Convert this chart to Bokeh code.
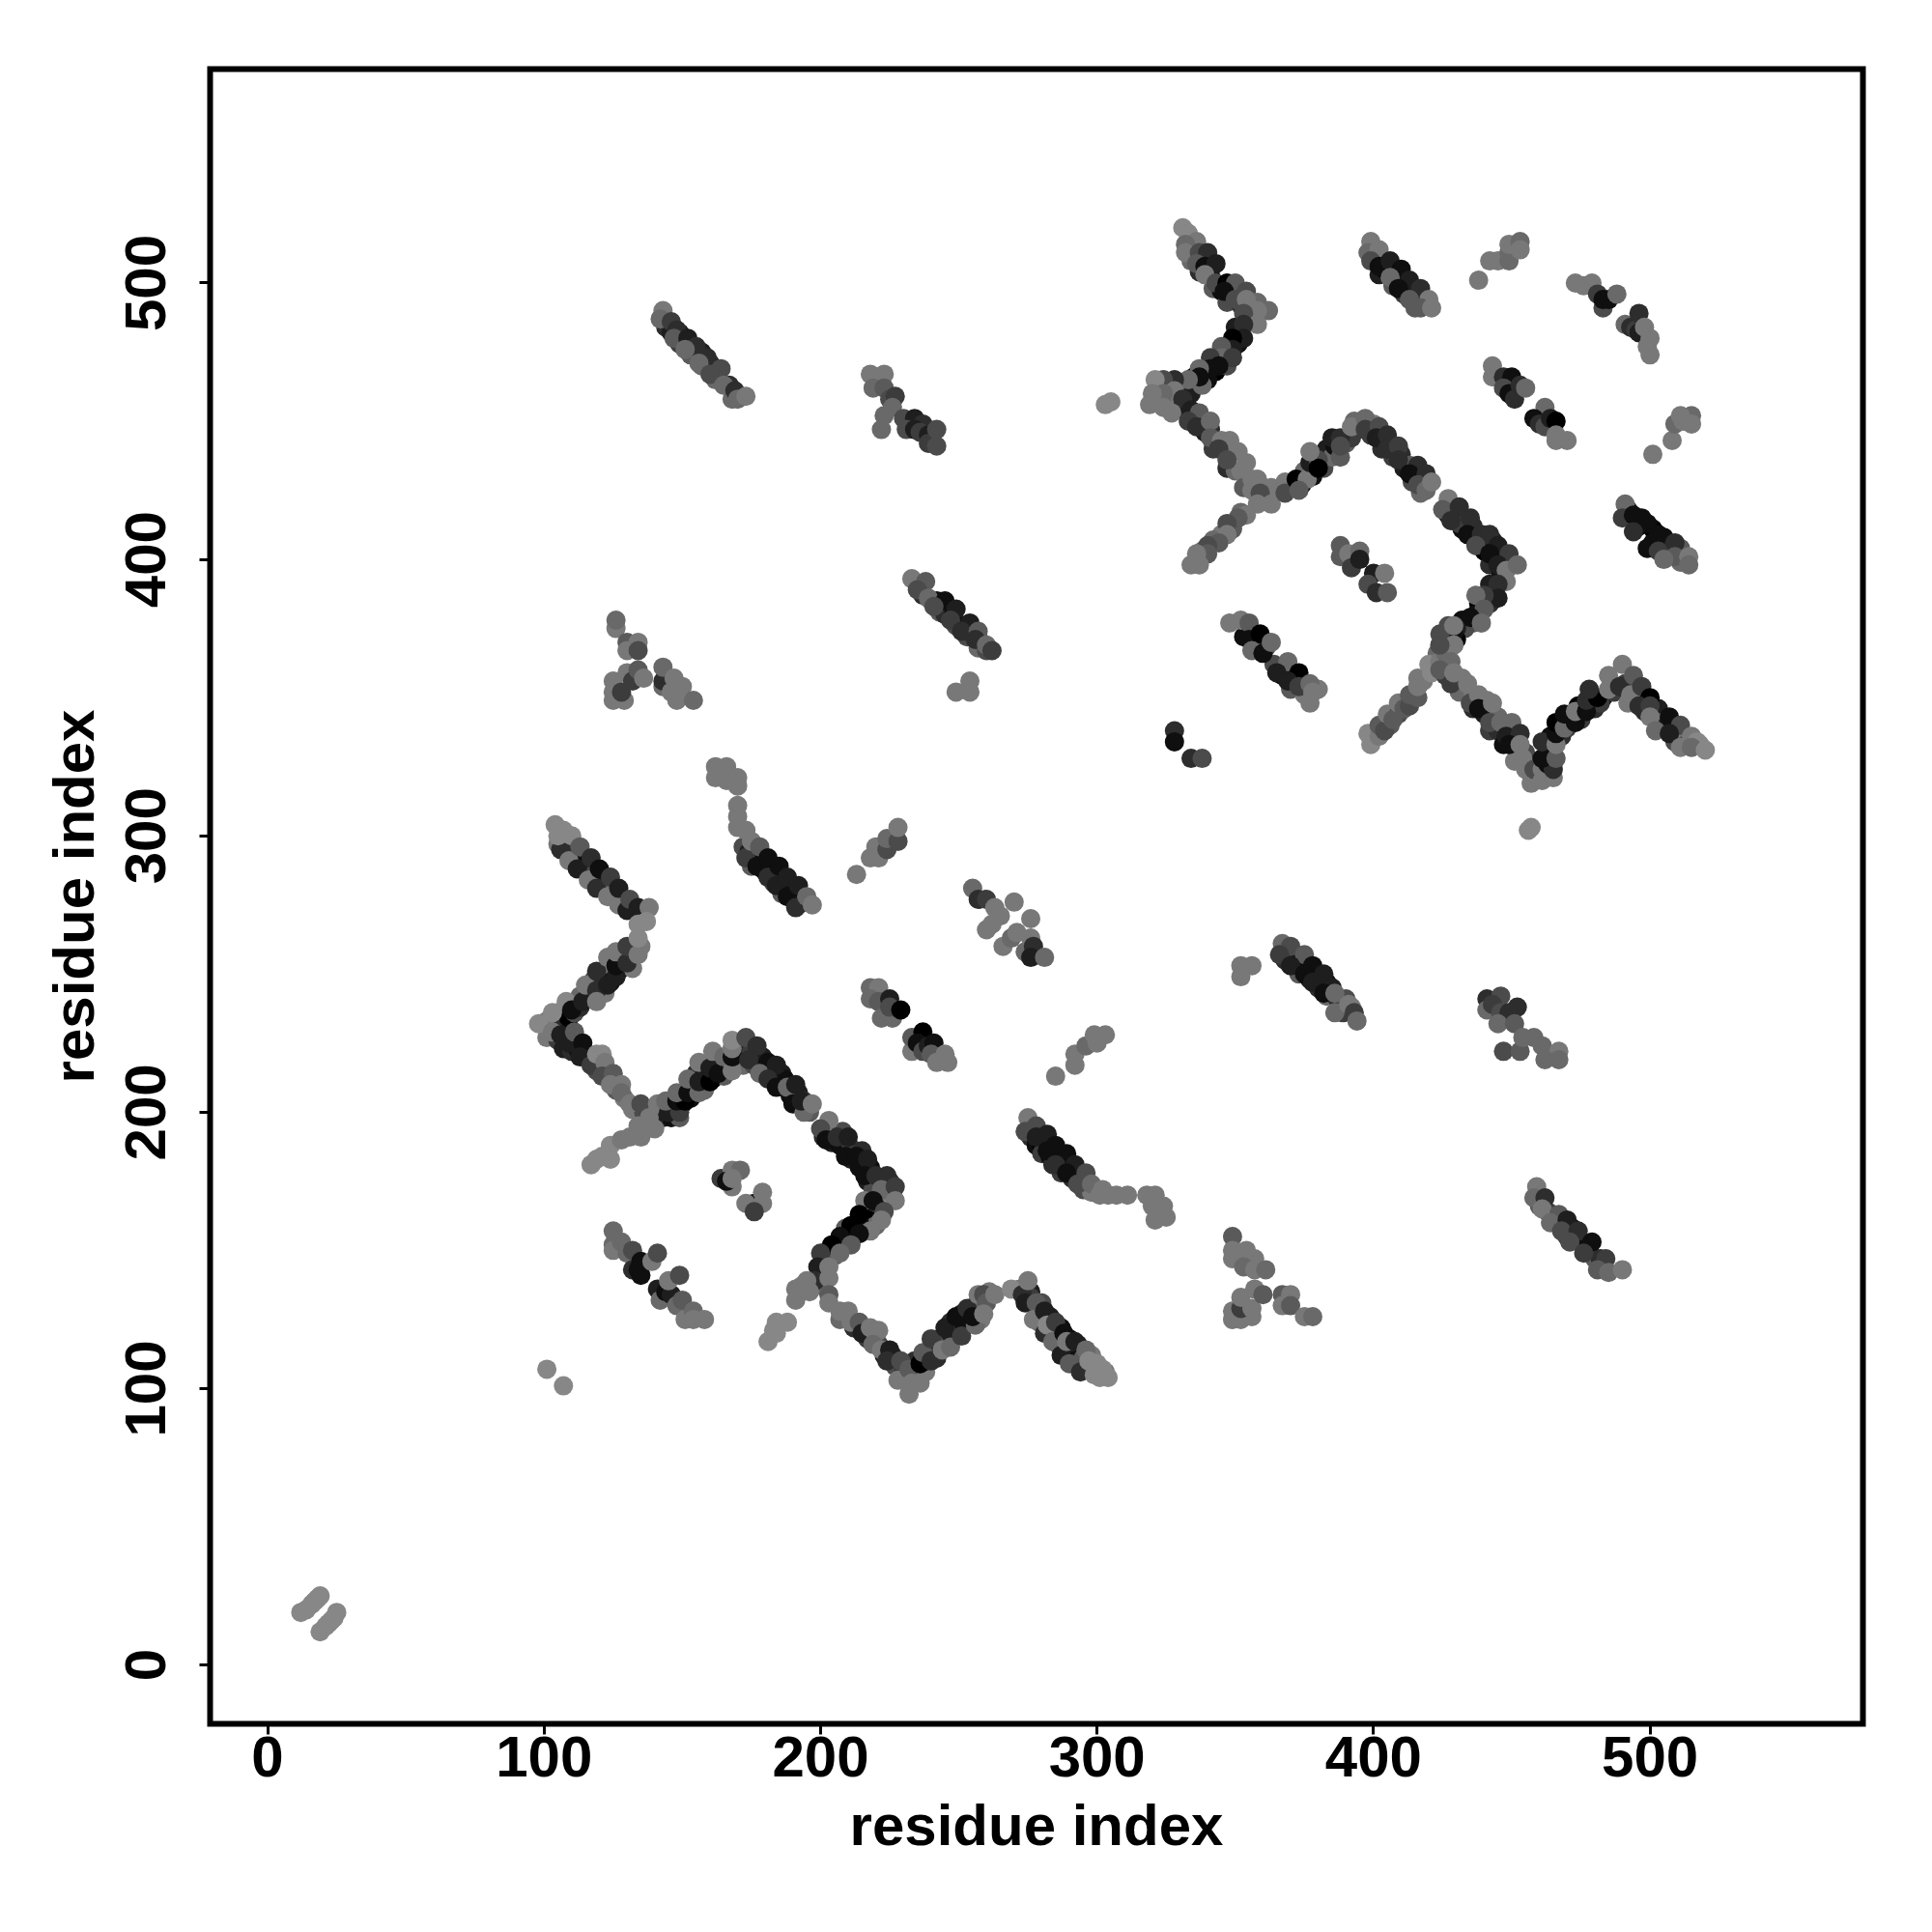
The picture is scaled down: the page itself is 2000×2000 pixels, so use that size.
from bokeh.plotting import figure
from bokeh.embed import file_html
from bokeh.resources import INLINE
from bokeh.models import ColumnDataSource, FixedTicker, Range1d

# (residue i, residue j, shade level: 0 darkest ... 9 lightest)
motif_n = [(12,19,9),(14,20,9),(16,22,9),(17,23,9),(18,24,9),(19,25,9),(19,12,9),(21,14,9),(22,15,9),(23,16,9),(24,17,9),(25,19,9)]
singles = [(101,107,9),(107,101,9),(303,456,9),(305,457,9),(456,302,9),(457,303,9)]
fill_a = [(105,297,8),(107,298,6),(108,295,2),(110,296,4),(111,292,3),(113,293,2),(114,290,1),(116,288,2),(118,286,5),(120,284,8),(121,283,2),(122,281,2),(124,280,7),(125,278,8),(128,277,4),(129,275,3),(131,275,1),(134,272,8),(136,271,8)]
fill_b = [(101,233,8),(105,236,7),(107,232,3),(109,234,0),(111,236,5),(113,238,3),(113,242,7),(116,242,2),(117,243,1),(118,248,6),(120,246,1),(121,249,3),(122,243,8),(124,252,8),(124,247,1),(127,251,8),(128,252,2),(128,256,7),(127,254,1),(131,256,3),(132,258,6),(133,260,4),(135,260,8),(132,252,8)]
fill_c = [(101,227,8),(105,226,4),(107,223,2),(110,222,3),(112,223,1),(115,221,6),(116,219,3),(118,217,7),(119,215,5),(123,212,8),(126,208,6),(129,205,8),(132,201,8),(136,200,5),(138,199,3),(143,198,2),(146,198,1),(149,198,6),(146,202,0),(150,203,0),(153,205,1),(150,206,1),(154,209,0),(157,210,1),(158,208,7),(155,214,3),(158,213,1),(161,212,0),(162,216,7),(164,218,1),(165,213,6),(166,217,0),(170,218,5),(171,222,2),(172,217,7),(175,222,4),(176,217,5),(179,220,2),(180,215,4),(181,218,1),(182,212,6),(186,214,2),(186,210,2),(187,212,1),(189,206,1),(192,207,2),(191,204,3),(194,204,3),(196,200,6)]
fill_d = [(201,191,3),(204,189,2),(207,188,1),(208,193,5),(211,187,4),(211,183,2),(214,180,1),(215,186,3),(218,180,1),(217,175,2),(221,174,2),(225,175,3),(219,172,5),(224,171,8),(218,165,0),(221,165,3),(217,161,0),(220,159,7),(214,160,1),(212,156,1),(209,154,0),(209,158,6),(206,152,1),(203,150,1),(202,147,5),(205,148,6)]
fill_e = [(200,141,4),(201,137,7),(207,125,7),(212,122,3),(216,122,7),(217,118,4),(221,116,5),(223,112,2),(226,112,3),(227,108,5),(230,107,4),(230,103,8),(234,105,7),(234,110,3),(238,106,8),(238,110,1),(238,113,0),(242,111,3),(242,115,2),(243,118,1),(245,117,5),(247,120,2),(247,124,3),(250,122,4),(252,123,1),(251,127,2),(254,125,5),(253,125,1),(256,130,4),(258,129,7)]
fill_f = [(261,135,8),(258,125,8),(272,136,8),(276,135,2),(276,133,4),(279,128,3),(280,131,5),(279,124,7),(283,126,2),(283,121,5),(286,121,3),(287,122,1),(286,116,5),(290,118,1),(291,113,2),(293,116,2),(292,110,1),(295,111,6),(296,108,3),(298,107,7),(298,112,8),(303,106,8),(302,107,9)]
chain_a = [(106,295,3),(109,291,8),(112,288,2),(116,284,8),(119,281,3),(123,278,8),(127,275,8),(130,273,2),
 (104,304,9),(105,300,9),(107,302,9),(110,300,9),(113,296,6),(117,292,3),(120,288,1),(124,285,4),(127,281,2),(131,277,5),(134,274,2),(138,274,8),(134,268,9),(137,269,9)]
chain_b = [(98,232,9),(103,236,9),(108,240,9),(110,237,1),(114,240,2),(115,246,8),(119,244,3),(119,240,8),(119,251,3),(123,246,2),(123,256,8),(126,249,2),(126,253,1),(126,258,8),(130,254,3),(130,260,4),(134,257,8),(134,263,9)]
chain_c = [(103,229,8),(106,228,2),(109,225,2),(111,229,6),(114,225,1),(113,220,2),(117,217,4),(119,221,9),(121,221,9),(122,218,8),(121,213,5),(125,214,6),(124,210,8),(128,210,8),(128,207,7),(131,203,8),(135,203,5),(140,198,2),(141,203,8),(145,200,2),(149,200,4),(144,204,7),(148,204,1),(151,204,0),(148,207,7),(152,207,1),(152,212,7),(156,207,7),(156,211,2),(160,211,0),(156,218,8),(160,216,2),(163,214,1),(161,222,8),(165,220,7),(168,215,8),(168,220,1),(168,223,8),(168,226,9),(173,227,5),(177,224,3),(174,219,3),(178,214,7),(184,217,2),(181,212,3),(184,209,1),(188,209,7),(191,210,2),(190,203,1),(194,200,7),(193,204,2),(197,203,8)]
chain_d = [(203,197,8),(200,194,5),(202,190,1),(206,191,3),(210,191,2),(209,184,1),(213,184,1),(217,183,2),(216,177,1),(220,177,3),(224,177,3),(222,172,7),(227,173,4),(216,168,8),(219,168,1),(227,168,8),(223,164,5),(222,161,8),(214,163,0),(218,157,8),(211,159,0),(214,156,1),(207,155,1),(211,152,6),(204,152,0),(207,149,7),(200,149,4)]
chain_e = [(199,144,2),(203,144,8),(198,139,3),(203,140,8),(203,134,6),(203,131,8),(207,128,8),(210,128,8),(211,124,8),(214,124,6),(215,120,2),(218,122,8),(221,121,8),(219,116,7),(222,114,8),(225,114,2),(224,110,3),(229,110,5),(228,103,8),(232,107,6),(232,98,8),(233,102,8),(236,102,8),(236,109,0),(237,113,6),(240,110,3),(240,118,4),(244,114,8),(245,122,2),(247,115,7),(251,119,4),(249,126,1),(253,129,3),(256,123,7),(255,126,1),(257,134,8),(259,134,5)]
chain_f = [(260,131,6),(259,127,8),(263,134,8),(269,136,9),(273,134,3),(274,131,2),(275,139,8),(278,131,6),(277,125,8),(281,128,2),(281,120,3),(282,123,9),(285,124,4),(284,117,7),(287,112,2),(288,120,1),(289,117,8),(292,117,2),(290,109,6),(296,114,7),(294,106,3),(297,110,9),(299,105,9),(300,109,9),(301,104,9),(304,104,9)]
side_g = [(117,181,9),(119,183,9),(121,184,9),(124,188,9),(124,183,9),(128,190,8),(131,191,8),(135,191,8),(134,195,8),(137,194,8),(140,194,8),(138,198,8)]
side_h = [(191,132,8),(191,136,8),(193,137,8),(195,139,8),(196,135,8)]
side_i = [(181,117,9),(183,121,9),(184,124,9),(188,124,9),(184,120,9)]
inner_j = [(164,176,4),(168,179,8),(171,179,7),(168,173,8),(166,175,1),(168,176,8),(176,167,1),(173,167,8),(179,167,8),(176,164,4),(179,171,8)]
sheet_k = [(125,157,7),(125,152,7),(125,150,8),(128,153,7),(130,149,7),(132,150,5),(132,143,3),(135,146,1),(135,141,1),(134,143,1),(139,146,8),(141,149,5),(141,136,2),(142,132,7),(144,135,1),(146,134,2),(145,139,8),(149,141,5),(148,130,7),(150,132,6),(151,125,8),(154,128,7),(154,125,8),(158,125,8)]
tri_l = [(126,375,8),(126,378,7),(130,370,6),(134,370,8),(130,367,8),(134,367,5),(125,356,8),(125,352,8),(125,349,8),(129,349,8),(128,352,4),(130,359,8),(132,356,4),(134,360,6),(136,357,8),
 (143,354,7),(143,356,3),(143,361,7),(146,352,8),(148,349,8),(147,357,8),(150,354,8),(154,349,7)]
fill_m = [(172,296,5),(174,294,2),(175,289,6),(176,292,0),(179,291,0),(179,288,1),(180,287,0),(183,285,0),(183,283,5),(186,283,1),(186,279,6),(189,281,1),(190,277,1),(191,278,0),(192,275,2),(194,276,5)]
blob_m = [(162,325,8),(166,325,8),(162,321,8),(166,320,8),(170,321,8),(170,318,8),(170,311,8),(170,307,8),(170,303,8),(173,302,8),(173,292,4),(175,298,8),(177,289,1),(178,296,6),(181,285,3),(181,292,1),(184,282,2),(185,289,1),(188,278,1),(188,285,2),(191,274,3),(192,282,2),(195,278,7),(197,275,8)]
blob_n = [(213,286,8),(218,292,8),(221,292,8),(220,296,8),(224,295,5),(224,299,7),(228,298,5),(228,303,8)]
fill_o = [(144,484,3),(146,482,2),(149,482,1),(149,478,4),(153,477,1),(153,474,6),(157,475,2),(157,470,7),(160,471,3),(162,469,2),(162,465,7),(167,463,3),(168,458,7)]
band_o = [(143,490,8),(142,487,7),(146,486,4),(148,483,3),(147,480,6),(152,480,2),(155,477,3),(151,476,7),(159,473,3),(156,471,7),(164,469,5),(160,467,5),(165,463,7),(169,461,3),(170,458,7),(173,459,8)]
band_p = [(218,467,8),(223,467,8),(219,462,7),(223,462,6),(225,458,5),(227,459,4),(226,455,7),(223,452,7),(222,447,7),(230,451,5),(234,451,2),(231,447,5),(237,449,3),(234,447,2),(236,446,4),(239,445,2),(239,442,4),(242,441,5),(242,447,5)]
fill_q = [(236,391,4),(237,387,3),(240,385,6),(242,385,1),(243,381,6),(245,380,3),(248,380,1),(249,376,5),(252,376,1),(253,372,5),(255,373,3),(258,370,4),(257,368,7),(260,367,5)]
band_q = [(233,393,8),(238,392,6),(235,389,5),(239,386,7),(245,385,1),(241,383,5),(249,382,2),(247,378,4),(254,377,2),(251,374,3),(257,374,6),(256,371,3),(260,369,7),(262,367,4)]
blob_r = [(249,352,8),(254,356,8),(254,352,8)]
sheet_s = [(218,245,7),(221,245,8),(218,241,7),(221,240,6),(225,241,2),(222,234,7),(226,234,7),(225,238,5),(229,237,0),
 (233,222,8),(233,227,6),(237,229,0),(235,225,1),(237,222,5),(239,224,2),(241,225,1),(240,221,6),(242,218,8),(245,221,8),(246,218,8)]
blob_t = [(255,281,7),(257,277,3),(260,277,4),(263,274,8),(260,266,8),(265,271,8),(262,268,8),(270,276,8),(276,270,8),(266,260,8),(269,263,7),(271,265,8),(274,258,7),(276,263,8),(277,260,3),(276,256,2),(281,256,7)]
blob_u = [(285,213,8),(292,217,8),(292,221,8),(296,224,7),(299,228,8),(300,225,8),(303,228,8)]
fill_v = [(276,191,3),(278,188,1),(280,188,0),(280,185,4),(283,184,1),(284,181,3),(287,183,1),(287,178,4),(290,181,0),(291,176,3),(294,177,1),(295,172,5),(298,171,8)]
band_v = [(275,198,8),(274,193,5),(278,195,5),(278,191,2),(282,192,2),(282,186,1),(285,188,1),(289,185,1),(285,181,3),(292,181,2),(289,178,1),(296,178,5),(293,174,5),(298,174,7),(302,172,8),(301,170,8),(304,170,8),(307,170,8),(311,170,8),(318,170,8),(321,170,8),(320,166,8),(324,166,8),(325,162,8),(321,161,8)]
tri_w = [(349,155,6),(349,150,8),(349,147,8),(354,150,8),(357,147,8),(353,144,7),(357,143,8),(361,143,7),
 (349,128,8),(349,125,8),(352,125,8),(356,126,8),(352,129,4),(352,133,8),(356,129,8),(357,136,8),(360,134,6),(367,134,6),(370,134,8),(367,130,8),(370,130,6),(375,126,8),(378,126,7)]
blob_x = [(352,253,8),(356,253,8),(352,249,8)]
fill_y = [(368,255,3),(371,256,1),(372,253,1),(373,250,6),(376,252,1),(377,248,2),(380,250,1),(380,245,3),(383,247,1),(383,242,7),(387,241,3),(389,236,4),(390,241,5),(392,238,8)]
band_y = [(367,261,7),(370,260,5),(366,257,4),(375,257,6),(370,253,2),(378,253,1),(375,250,1),(382,250,2),(378,247,2),(385,245,2),(382,243,1),(386,243,7),(386,236,7),(391,239,8),(393,236,4),(394,233,7)]
fill_z = [(334,512,8),(334,508,7),(337,504,3),(341,503,1),(342,498,6),(345,497,1),(347,493,5),(350,497,2),(352,492,3),(356,490,5),(350,484,2),(351,478,1),(347,474,2),(343,473,1),(343,468,0),(347,470,5),(339,468,1),(340,465,1),(335,466,0),(336,463,6),(331,461,1),(334,460,2),(338,463,7)]
chain_z = [(331,520,9),(333,518,9),(336,515,8),(332,514,7),(332,511,8),(337,511,5),(340,511,3),(336,507,6),(339,506,1),(343,507,2),(339,503,8),(343,500,5),(347,500,0),(350,500,6),(346,497,1),(350,494,5),(354,497,5),(358,493,7),(354,494,8),(362,490,7),(358,490,8),(353,489,5),(358,485,8),(353,485,3),(353,480,2),(349,480,0),(349,476,2),(345,477,6),(345,473,7),(349,473,4),(341,473,4),(344,470,1),(341,469,1),(337,469,7),(337,466,1),(333,465,7)]
fill_aa = [(322,458,8),(326,458,5),(329,455,8),(331,455,2),(334,450,3),(338,450,2),(339,446,2),(341,447,3),(342,440,4),(346,440,5),(347,433,3),(350,432,7),(352,432,8),(353,426,6),(356,425,8),(360,426,8),(360,421,7),(352,417,7),(349,413,8),(349,411,6),(345,409,8),(342,407,7),(338,403,7)]
chain_aa = [(328,465,3),(324,465,5),(321,465,9),(328,461,8),(331,458,3),(324,460,7),(320,460,8),(319,456,8),(324,455,8),(327,453,8),(334,454,2),(337,453,6),(333,450,4),(336,448,3),(341,450,7),(341,444,6),(345,443,8),(348,443,8),(344,440,4),(351,439,8),(347,436,5),(354,435,8),(356,429,8),(358,429,8),(363,426,8),(359,424,5),(363,420,8),(358,420,8),(354,416,8),(351,415,6),(347,413,5),(347,409,8),(344,406,6),(340,405,5),(340,402,6),(336,402,8),(334,398,8),(337,398,8)]
fill_ab = [(370,426,6),(374,427,0),(375,432,7),(378,430,1),(378,436,1),(382,436,1),(382,433,5),(383,440,2),(385,437,7),(386,441,1),(390,442,6),(392,444,4),(393,450,7),(399,445,4),(400,449,8),(403,440,3),(406,442,4),(407,437,4),(410,438,3),(411,433,2),(414,428,5),(417,428,3),(413,434,6),(417,424,7)]
chain_ab = [(368,428,8),(368,424,5),(372,429,0),(376,429,8),(373,425,6),(377,435,2),(380,436,5),(380,433,0),(377,439,8),(385,444,2),(388,444,3),(388,437,6),(388,441,5),(392,448,8),(397,451,7),(397,447,4),(402,448,5),(401,444,2),(405,445,3),(405,440,3),(409,441,4),(409,436,3),(416,434,3),(413,431,1),(419,431,3),(416,427,5),(419,425,7),(421,428,8)]
fill_ac = [(427,416,1),(430,416,1),(432,411,1),(431,413,4),(436,412,3),(436,408,2),(439,405,1),(440,403,0),(443,407,2),(444,401,1),(447,400,1),(442,398,3),(446,395,1),(442,391,2),(442,387,2),(442,384,3),(438,384,0),(437,380,1),(436,377,6),(432,378,1),(433,375,5),(430,371,0),(426,371,6),(427,376,5),(423,366,7)]
chain_ac = [(427,422,8),(425,418,6),(431,419,3),(435,415,3),(428,414,3),(434,409,1),(439,409,3),(442,409,3),(437,405,5),(445,405,2),(442,402,1),(449,402,4),(445,398,2),(448,396,8),(452,398,7),(448,392,8),(445,391,3),(445,386,2),(440,387,4),(437,387,7),(440,382,6),(435,379,1),(439,377,7),(430,375,2),(426,373,7),(429,373,1),(424,369,5),(429,369,7)]
fill_ad = [(400,509,3),(402,503,2),(404,505,0),(407,505,0),(407,499,6),(410,500,1),(411,496,4),(413,498,0),(415,495,2),(415,491,6),(418,493,1)]
band_ad = [(399,515,8),(398,511,7),(402,512,8),(399,508,5),(402,506,1),(406,508,2),(410,505,1),(406,502,7),(413,501,2),(409,498,1),(417,498,3),(413,494,6),(420,494,8),(417,491,6),(421,491,8)]
blob_ae = [(438,501,8),(442,508,8),(445,508,8),(449,508,7),(449,511,7),(449,514,8),(453,515,7),(453,512,8)]
band_af = [(443,470,8),(443,466,8),(447,466,3),(450,466,1),(447,462,5),(449,460,1),(451,458,3),(453,463,3),(455,462,7),(462,455,7),(458,451,1),(460,449,3),(462,448,5),(464,451,2),(466,450,0),(466,445,8),(466,443,8),(470,443,8)]
inner_ag = [(388,405,6),(388,401,6),(391,402,8),(395,403,7),(392,397,4),(395,400,2),(400,395,2),(398,391,5),(401,388,3),(404,395,8),(405,388,6)]
fill_ah = [(353,372,1),(357,369,1),(358,368,0),(361,368,5),(364,362,5),(367,358,0),(370,358,1),(370,353,6),(375,355,4),(375,351,8),(380,353,8)]
band_ah = [(348,377,8),(352,378,8),(355,377,6),(355,371,1),(359,373,0),(356,367,7),(360,366,1),(363,370,7),(369,363,7),(365,359,2),(373,359,0),(369,356,2),(373,354,4),(377,355,7),(378,352,8),(377,348,8)]
chain_ai = [(398,337,9),(399,333,9),(402,336,8),(402,340,6),(406,340,6),(404,338,5),(405,344,8),(409,344,5),(407,342,6),(409,348,8),(411,346,6),(413,347,5),(413,351,6),(416,350,6),(416,354,8),(416,357,8),(418,356,8),(421,359,9),(420,362,9),(424,363,8)]
fill_aj = [(426,366,7),(426,358,4),(431,352,7),(432,357,8),(436,351,8),(436,346,3),(441,349,8),(440,344,2),(442,338,4),(445,343,7),(445,338,3),(447,333,1),(451,335,2),(452,330,7),(451,327,8),(455,330,5),(459,326,3)]
chain_aj = [(424,373,5),(429,376,8),(429,369,8),(424,369,5),(428,363,7),(424,360,6),(428,355,4),(429,359,8),(434,355,8),(435,348,5),(438,351,8),(438,346,1),(443,348,8),(442,341,5),(446,341,7),(450,341,7),(448,336,2),(453,337,3),(449,333,1),(453,333,8),(454,328,8),(455,324,8),(457,319,8),(458,324,5),(461,320,8),(461,324,8),(465,321,8)]
fill_ak = [(463,326,1),(463,331,0),(464,336,1),(468,336,3),(468,341,0),(471,343,2),(470,339,4),(475,342,4),(474,347,0),(479,347,0),(480,346,3),(483,350,1),(482,348,4),(487,352,4),(491,355,4),(492,348,8),(496,351,2),(498,349,0),(498,345,3),(502,343,0),(503,346,2),(504,341,6),(505,339,2),(509,338,3),(509,334,5),(512,335,8),(513,333,5),(518,333,9)]
chain_ak = [(465,324,3),(461,328,1),(466,328,6),(461,334,3),(466,333,8),(466,337,1),(466,341,0),(469,339,7),(469,344,1),(473,341,1),(473,345,8),(477,345,1),(477,349,3),(481,350,0),(478,353,3),(485,353,8),(485,358,8),(489,354,3),(490,362,8),(494,358,6),(493,351,8),(497,354,4),(500,350,0),(496,347,3),(500,347,4),(500,343,8),(507,343,1),(502,338,7),(511,340,5),(507,337,2),(511,332,8),(515,336,8),(517,334,9),(515,332,7),(520,331,9)]
small_al = [(328,338,3),(328,334,1),(334,328,3),(338,328,5)]
fill_am = [(492,418,1),(496,412,0),(497,415,1),(501,411,0),(501,406,1),(505,408,1),(505,404,2),(507,402,5),(511,404,6),(511,399,7)]
band_am = [(491,420,7),(490,415,4),(494,416,1),(499,413,1),(494,410,3),(503,409,1),(499,404,1),(503,403,4),(509,406,3),(509,401,6),(505,400,7),(514,401,8),(514,398,7)]
blob_an = [(501,438,8),(508,443,8),(509,449,7),(512,450,8),(515,452,7),(515,449,8),(511,452,8)]
band_ao = [(473,500,8),(476,499,8),(479,500,8),(481,496,4),(483,491,5),(483,494,1),(485,494,1),(488,496,7),(491,485,7),(493,484,3),(495,483,4),(496,489,3),(496,482,2),(498,484,8),(500,480,8),(499,477,8),(500,474,8)]
fill_ap = [(460,166,6),(463,164,4),(466,160,3),(468,159,2),(470,155,4),(472,158,1),(474,154,2),(476,152,1),(478,150,1),(480,147,6),(482,147,3)]
band_ap = [(459,173,8),(458,169,7),(462,169,3),(461,165,8),(467,163,6),(464,160,7),(470,161,2),(468,157,5),(474,157,3),(471,153,5),(479,153,1),(476,149,4),(484,147,4),(481,143,6),(485,142,7),(490,143,8)]
band_aq = [(441,241,3),(446,242,5),(441,237,7),(443,239,4),(446,236,5),(452,238,3),(449,236,3),(445,232,7),(451,232,6),(447,222,5),(453,222,6),(458,227,7),(454,227,7),(461,224,7),(467,222,8),(467,219,7),(462,219,7)]

series = [motif_n, singles, fill_a, fill_b, fill_c, fill_d, fill_e, fill_f, chain_a, chain_b, chain_c, chain_d, chain_e, chain_f,
          side_g, side_h, side_i, inner_j, sheet_k, tri_l, fill_m, blob_m, blob_n, fill_o, band_o, band_p, fill_q, band_q, blob_r,
          sheet_s, blob_t, blob_u, fill_v, band_v, tri_w, blob_x, fill_y, band_y, fill_z, chain_z, fill_aa, chain_aa, fill_ab, chain_ab,
          fill_ac, chain_ac, fill_ad, band_ad, blob_ae, band_af, inner_ag, fill_ah, band_ah, chain_ai, fill_aj, chain_aj, fill_ak, chain_ak,
          small_al, fill_am, band_am, blob_an, band_ao, fill_ap, band_ap, band_aq]
ticks = [0, 100, 200, 300, 400, 500]

xs, ys, colors = [], [], []
for group in series:
    for i, j, lev in group:
        g = lev * 15
        xs.append(i); ys.append(j); colors.append("#%02x%02x%02x" % (g, g, g))

p = figure(frame_width=1711, frame_height=1713, output_backend="svg", toolbar_location=None,
           x_range=Range1d(-20.8, 577), y_range=Range1d(-21.3, 577.4),
           min_border_left=217, min_border_right=56, min_border_top=71, min_border_bottom=200,
           background_fill_color="white", border_fill_color="white")
p.grid.visible = False
p.outline_line_color = "black"
p.outline_line_width = 6
p.outline_line_join = "miter"

src = ColumnDataSource(dict(x=xs, y=ys, c=colors))
p.scatter("x", "y", source=src, size=20, fill_color="c", line_color=None)

for ax, title in ((p.xaxis[0], "residue index"), (p.yaxis[0], "residue index")):
    ax.ticker = FixedTicker(ticks=ticks)
    ax.axis_label = title
    ax.axis_label_text_font = "Liberation Sans"
    ax.axis_label_text_font_style = "bold"
    ax.axis_label_text_font_size = "60px"
    ax.axis_label_text_color = "black"
    ax.major_label_text_font = "Liberation Sans"
    ax.major_label_text_font_style = "bold"
    ax.major_label_text_font_size = "60px"
    ax.major_label_text_color = "black"
    ax.axis_line_color = None
    ax.major_tick_line_color = "black"
    ax.major_tick_line_width = 3
    ax.major_tick_in = 0
    ax.major_tick_out = 11
    ax.minor_tick_line_color = None
p.yaxis[0].major_label_orientation = "parallel"
p.xaxis[0].major_label_standoff = 2
p.yaxis[0].major_label_standoff = 35
p.xaxis[0].axis_label_standoff = 14
p.yaxis[0].axis_label_standoff = 18

open("out.html", "w").write(file_html(p, INLINE))
